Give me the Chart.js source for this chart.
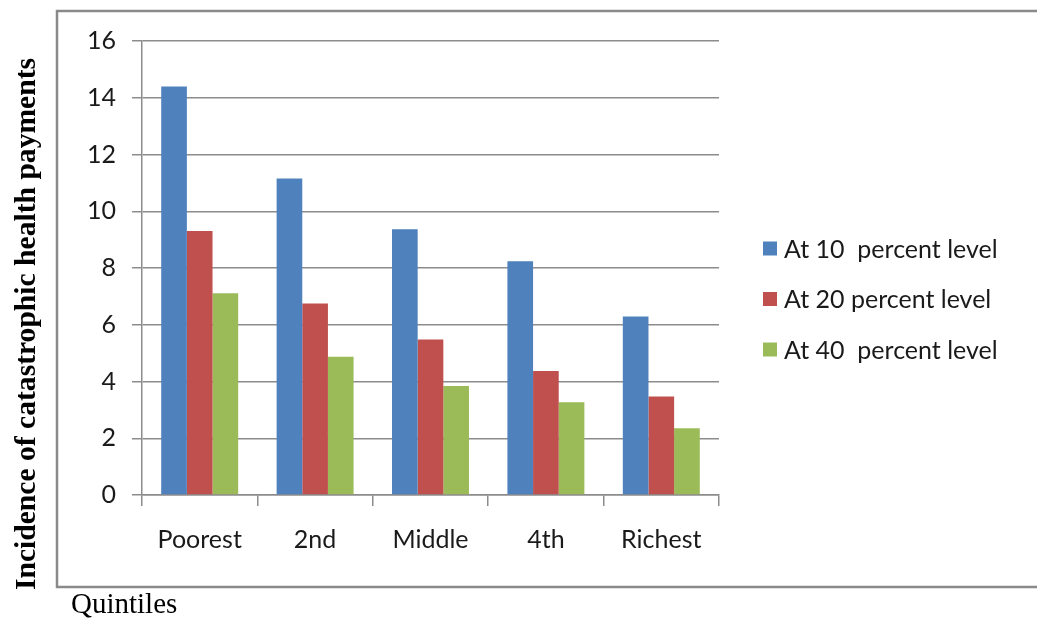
<!DOCTYPE html>
<html>
<head>
<meta charset="utf-8">
<script src="https://cdn.jsdelivr.net/npm/chart.js@4/dist/chart.umd.min.js"></script>
<style>
  html, body { margin: 0; padding: 0; background: #ffffff; }
  #wrap { width: 1037px; height: 620px; position: relative; }
</style>
</head>
<body>
<div id="wrap"><canvas id="chart" width="1037" height="620"></canvas></div>
<script>
// Income quintiles
const categories = ['Poorest', '2nd', 'Middle', '4th', 'Richest'];

// Incidence of catastrophic health payments (%) by threshold
const seriesNames = ['At 10  percent level', 'At 20 percent level', 'At 40  percent level'];
const at10 = [14.4, 11.15, 9.37, 8.24, 6.29];
const at20 = [9.3, 6.75, 5.48, 4.37, 3.47];
const at40 = [7.11, 4.87, 3.84, 3.27, 2.35];
const seriesColors = ['#4F81BD', '#C0504D', '#9BBB59'];

const yTicks = [0, 2, 4, 6, 8, 10, 12, 14, 16];

const yTitle = 'Incidence of catastrophic health payments';
const xTitle = 'Quintiles';

const tickFont = { family: 'Lato, "Open Sans", sans-serif', size: 25 };
const gridGray = '#8c8c8c';

// Outer frame, axis captions and the right-hand key
const decorations = {
  id: 'decorations',
  beforeDraw(chart) {
    const ctx = chart.ctx;
    ctx.save();
    ctx.fillStyle = '#ffffff';
    ctx.fillRect(0, 0, chart.width, chart.height);
    ctx.strokeStyle = '#8a8a8a';
    ctx.lineWidth = 2.5;
    ctx.beginPath();
    ctx.moveTo(chart.width + 5, 11);
    ctx.lineTo(57, 11);
    ctx.lineTo(57, 587);
    ctx.lineTo(chart.width + 5, 587);
    ctx.stroke();
    ctx.restore();
  },
  afterDraw(chart) {
    const ctx = chart.ctx;
    ctx.save();
    ctx.fillStyle = '#000000';
    // vertical caption
    ctx.font = 'bold 29.6px "Liberation Serif", "Times New Roman", serif';
    ctx.translate(35, 324);
    ctx.rotate(-Math.PI / 2);
    ctx.textAlign = 'center';
    ctx.textBaseline = 'alphabetic';
    ctx.fillText(yTitle, 0, 0);
    ctx.restore();

    ctx.save();
    ctx.fillStyle = '#000000';
    ctx.font = '29px "Liberation Serif", "Times New Roman", serif';
    ctx.textAlign = 'left';
    ctx.textBaseline = 'alphabetic';
    ctx.fillText(xTitle, 71, 613);

    // key
    ctx.font = '25px ' + tickFont.family;
    ctx.textBaseline = 'middle';
    chart.data.datasets.forEach((ds, i) => {
      const cy = 248.5 + i * 50.5;
      ctx.fillStyle = ds.backgroundColor;
      ctx.fillRect(763, cy - 7, 14, 14);
      ctx.fillStyle = '#1a1a1a';
      ctx.fillText(ds.label, 784, cy + 1);
    });
    ctx.restore();
  }
};

new Chart(document.getElementById('chart'), {
  type: 'bar',
  data: {
    labels: categories,
    datasets: [
      { label: seriesNames[0], data: at10, backgroundColor: seriesColors[0] },
      { label: seriesNames[1], data: at20, backgroundColor: seriesColors[1] },
      { label: seriesNames[2], data: at40, backgroundColor: seriesColors[2] }
    ]
  },
  options: {
    responsive: false,
    animation: false,
    devicePixelRatio: 1,
    layout: { padding: { left: 0, right: 318, top: 41, bottom: 0 } },
    datasets: {
      bar: { barPercentage: 1.0, categoryPercentage: 0.667 }
    },
    plugins: {
      legend: { display: false },
      tooltip: { enabled: false }
    },
    scales: {
      x: {
        offset: true,
        grid: {
          offset: true,
          drawOnChartArea: false,
          drawTicks: true,
          tickLength: 11,
          color: gridGray,
          lineWidth: 1.5
        },
        border: { display: true, color: gridGray, width: 1.5 },
        ticks: { color: '#1a1a1a', font: tickFont, padding: 19, maxRotation: 0 },
        afterFit(scale) { scale.height = 125; }
      },
      y: {
        min: 0,
        max: 16,
        afterBuildTicks(scale) { scale.ticks = yTicks.map(v => ({ value: v })); },
        grid: {
          color: gridGray,
          lineWidth: 1.5,
          tickLength: 10,
          drawTicks: true
        },
        border: { display: true, color: gridGray, width: 1.5 },
        ticks: { color: '#1a1a1a', font: tickFont, padding: 16 },
        afterFit(scale) { scale.width = 142; }
      }
    }
  },
  plugins: [decorations]
});
</script>
</body>
</html>
